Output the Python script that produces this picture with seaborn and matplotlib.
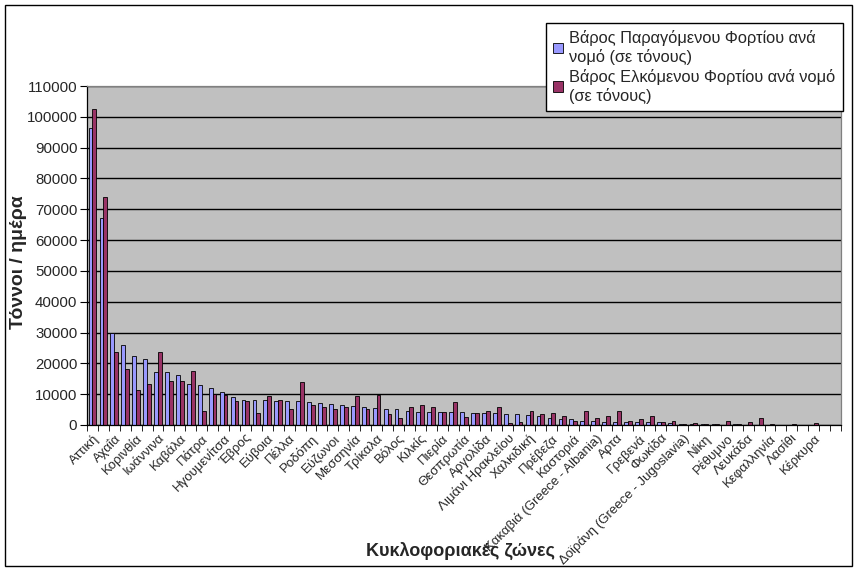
import numpy as np
import pandas as pd
import matplotlib
matplotlib.use("Agg")
import matplotlib.pyplot as plt
from matplotlib.patches import Rectangle
import seaborn as sns

# ── Data ─────────────────────────────────────────────────────────────────────
zone_labels = ['Αττική', 'Αχαΐα', 'Κορινθία', 'Ιωάννινα', 'Καβάλα', 'Πάτρα',
               'Ηγουμενίτσα', 'Έβρος', 'Εύβοια', 'Πέλλα', 'Ροδόπη', 'Εύζωνοι',
               'Μεσσηνία', 'Τρίκαλα', 'Βόλος', 'Κιλκίς', 'Πιερία', 'Θεσπρωτία',
               'Αργολίδα', 'Λιμάνι Ηρακλείου', 'Χαλκιδική', 'Πρέβεζα', 'Καστοριά',
               'Κακαβιά (Greece - Albania)', 'Αρτα', 'Γρεβενά', 'Φωκίδα',
               'Δοϊράνη (Greece - Jugoslavia)', 'Νίκη', 'Ρέθυμνο', 'Λευκάδα',
               'Κεφαλληνία', 'Λασίθι', 'Κέρκυρα']

produced = [96400, 67200, 29800, 25800, 22400, 21300, 17100, 17100, 16100, 13300,
            12900, 12000, 10700, 9000, 8150, 8150, 8150, 7840, 7840, 7840,
            7500, 7080, 6860, 6430, 6220, 5780, 5460, 5140, 5140, 4600,
            4250, 4200, 4200, 4150, 4150, 3870, 3870, 3870, 3550, 3550,
            3330, 3000, 2260, 1940, 1940, 1290, 1400, 1080, 1080, 1080,
            870, 870, 870, 540, 330, 330, 330, 220, 100, 330,
            50, 50, 50, 30, 30, 20, 20, 0, 0]

attracted = [102400, 74000, 23800, 18200, 11400, 13300, 23700, 14200, 14300, 17400,
             4600, 10000, 9800, 7800, 7800, 3800, 9460, 8160, 5240, 13800,
             6540, 5680, 5240, 5890, 9460, 5140, 9780, 3620, 2220, 6000,
             6430, 5680, 4160, 7420, 2580, 3870, 4400, 5800, 650, 1080,
             4400, 3550, 3870, 3000, 1290, 4620, 2150, 3000, 4620, 1290,
             1850, 2930, 870, 1200, 330, 650, 330, 330, 1200, 330,
             980, 2280, 330, 0, 330, 0, 540, 0, 0]

series_names = ['Βάρος Παραγόμενου Φορτίου ανά\nνομό (σε τόνους)',
                'Βάρος Ελκόμενου Φορτίου ανά νομό\n(σε τόνους)']

n = len(produced)
df = pd.DataFrame({'zone': list(range(n)) * 2,
                   'series': [series_names[0]] * n + [series_names[1]] * n,
                   'tons': produced + attracted})

# ── Style ────────────────────────────────────────────────────────────────────
sns.set_style('white')
plt.rcParams['font.family'] = ['Liberation Sans', 'DejaVu Sans']
BLUE = '#9999FF'; WINE = '#993366'; PLOT_BG = '#C0C0C0'

fig = plt.figure(figsize=(8.55, 5.70), dpi=100)
ax = fig.add_axes([87 / 855, 1 - 425 / 570, (841 - 87) / 855, (425 - 86) / 570])
ax.set_facecolor(PLOT_BG)

sns.barplot(data=df, x='zone', y='tons', hue='series', palette=[BLUE, WINE],
            width=0.7, saturation=1, edgecolor='black', linewidth=0.6, ax=ax)

ax.set_xlim(-0.5, n - 0.5)
ax.set_ylim(0, 110000)
ax.set_yticks(np.arange(0, 110001, 10000))
ax.yaxis.grid(True, color='black', linewidth=1)
ax.set_axisbelow(True)
ax.tick_params(axis='y', labelsize=10.8, length=5, direction='out', left=True,
               color='black', pad=2)

# category ticks between groups, labels on every other zone
ax.set_xticks(np.arange(0, 2 * len(zone_labels), 2))
ax.set_xticklabels(zone_labels, rotation=45, ha='right', rotation_mode='anchor', fontsize=9.5)
ax.tick_params(axis='x', which='major', length=0, pad=5)
ax.set_xticks(np.arange(-0.5, n, 1), minor=True)
ax.tick_params(axis='x', which='minor', length=4, direction='out', bottom=True, color='black')

for side in ['left', 'bottom']:
    ax.spines[side].set_color('black')
    ax.spines[side].set_linewidth(0.9)
for side in ['right', 'top']:
    ax.spines[side].set_color('#808080')
    ax.spines[side].set_linewidth(0.9)

ax.set_xlabel('Κυκλοφοριακές ζώνες', fontsize=13, fontweight='bold')
ax.xaxis.set_label_coords(0.495, -0.345)
ax.set_ylabel('Τόννοι / ημέρα', fontsize=14, fontweight='bold')
ax.yaxis.set_label_coords(-0.08, 0.48)

leg = ax.legend(loc='upper right', bbox_to_anchor=(843 / 855, 1 - 23 / 570),
                bbox_transform=fig.transFigure, borderaxespad=0, fontsize=11.8,
                frameon=True, fancybox=False, edgecolor='black', framealpha=1,
                handlelength=0.6, handleheight=0.6, handletextpad=0.4,
                labelspacing=0.25, borderpad=0.45)
leg.get_frame().set_linewidth(1)

# outer chart border
fig.patches.append(Rectangle((5 / 855, 4 / 570), 847 / 855, 561 / 570, transform=fig.transFigure,
                             fill=False, edgecolor='black', linewidth=1))

fig.savefig('out.png', dpi=100)
